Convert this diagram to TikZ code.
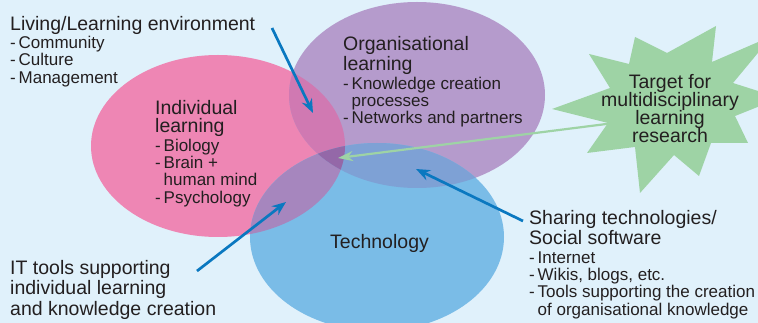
\documentclass[tikz,border=0pt]{standalone}
\usepackage{fontspec}
\setmainfont{Liberation Sans}
\usetikzlibrary{arrows.meta}

\definecolor{bgsky}{RGB}{224,241,251}
\definecolor{indivpink}{RGB}{238,134,180}
\definecolor{orgpurple}{RGB}{181,155,204}
\definecolor{techblue}{RGB}{122,188,231}
\definecolor{pinkpurple}{RGB}{208,121,178}
\definecolor{pinkblue}{RGB}{166,134,190}
\definecolor{purpleblue}{RGB}{126,161,213}
\definecolor{allthree}{RGB}{148,104,168}
\definecolor{stargreen}{RGB}{158,211,165}
\definecolor{arrowblue}{RGB}{10,120,192}
\definecolor{inkgray}{RGB}{35,31,32}

\newcommand\ttl{\fontsize{19.5}{17.3}\selectfont}
\newcommand\dashitem{-\,}
\newcommand\indivpath{(218,146) ellipse [x radius=127, y radius=91]}
\newcommand\orgpath{(417,95) ellipse [x radius=128, y radius=93]}
\newcommand\techpath{(377,237) ellipse [x radius=127, y radius=94]}

\begin{document}
\begin{tikzpicture}[x=1pt,y=-1pt,
  blurb/.style={anchor=base west,align=left,inner sep=0pt,text=inkgray,
    font=\fontsize{17}{17.3}\selectfont},
  blue arrow/.style={-{Stealth[length=14pt,width=11pt]},line width=2.7pt,arrowblue},
  green arrow/.style={-{Stealth[length=15pt,width=10pt]},line width=2.2pt,stargreen}]
\useasboundingbox (0,0) rectangle (758,323);
\clip (0,0) rectangle (758,323);
\fill[bgsky] (0,0) rectangle (758,323);

\fill[indivpink] \indivpath;
\fill[orgpurple] \orgpath;
\fill[techblue] \techpath;
\begin{scope}
\clip \indivpath;
\fill[pinkpurple] \orgpath;
\end{scope}
\begin{scope}
\clip \indivpath;
\fill[pinkblue] \techpath;
\end{scope}
\begin{scope}
\clip \orgpath;
\fill[purpleblue] \techpath;
\end{scope}
\begin{scope}
\clip \indivpath;
\clip \orgpath;
\fill[allthree] \techpath;
\end{scope}

% multi-line nodes sit on the baseline of their last line
\node[blurb] (living) at (10,83.3) {{\ttl Living/Learning environment}\\[1.2pt]
  \dashitem Community\\ \dashitem Culture\\ \dashitem Management};
\node[blurb] (indiv) at (155,203.3) {{\ttl Individual}\\[1.2pt] {\ttl learning}\\[1.2pt]
  \dashitem Biology\\ \dashitem Brain +\\ \phantom{\dashitem}human mind\\ \dashitem Psychology};
\node[blurb] (org) at (343,124) {{\ttl Organisational}\\[1.2pt] {\ttl learning}\\[1.2pt]
  \dashitem Knowledge creation\\ \phantom{\dashitem}processes\\ \dashitem Networks and partners};
\node[blurb] (tech) at (330,248.3) {\ttl Technology};
\node[blurb] (sharing) at (529,315) {{\ttl Sharing technologies/}\\[1.2pt] {\ttl Social software}\\[1.2pt]
  \dashitem Internet\\ \dashitem Wikis, blogs, etc.\\ \dashitem Tools supporting the creation\\
  \phantom{\dashitem}of organisational knowledge};
\node[blurb] (ittools) at (10,315) {{\ttl IT tools supporting}\\[1.2pt]
  {\ttl individual learning}\\[1.2pt] {\ttl and knowledge creation}};

\coordinate (gstart) at (630,121);
\coordinate (gtip) at (338,158);
\draw[green arrow] (gstart) -- (gtip);

\fill[stargreen] (552,109) -- (610,88) -- (589,54) -- (629,64) -- (635,37) -- (667,53)
  -- (716,26) -- (712,62) -- (772,36) -- (733,83) -- (780,98) -- (735,116) -- (748,143)
  -- (711,143) -- (699,176) -- (674,155) -- (640,193) -- (635,147) -- (587,153)
  -- (608,123) -- cycle;
\node[anchor=base,align=center,inner sep=0pt,text=inkgray,font=\fontsize{19.5}{18.2}\selectfont]
  (target) at (670,142.7) {Target for\\ multidisciplinary\\ learning\\ research};

\coordinate (envtail) at (272,28);
\coordinate (envtip) at (313,113);
\coordinate (ittail) at (197,271);
\coordinate (ittip) at (286,202);
\coordinate (sharetail) at (523,221);
\coordinate (sharetip) at (416,169);
\draw[blue arrow] (envtail) -- (envtip);
\draw[blue arrow] (ittail) -- (ittip);
\draw[blue arrow] (sharetail) -- (sharetip);
\end{tikzpicture}
\end{document}
